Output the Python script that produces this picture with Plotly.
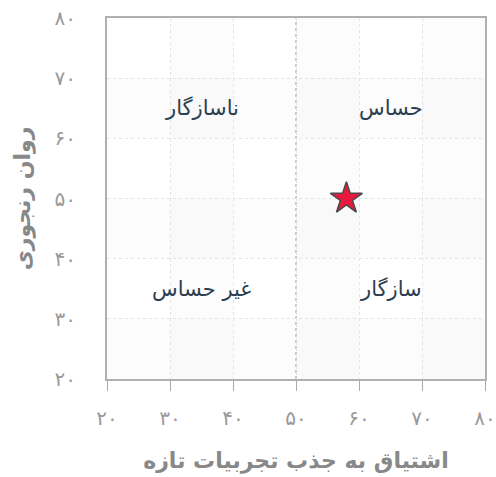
import plotly.graph_objects as go

# Data
point_x = [58]
point_y = [50]
tick_vals = [20, 30, 40, 50, 60, 70, 80]
tick_text = ["۲۰", "۳۰", "۴۰", "۵۰", "۶۰", "۷۰", "۸۰"]
quad_labels = ["ناسازگار", "حساس", "غیر حساس", "سازگار"]
quad_x = [35, 65, 35, 65]
quad_y = [65, 65, 35, 35]
band_x = [(30, 40), (50, 60), (70, 80)]
band_y = [(20, 30), (40, 50), (60, 70)]
x_title = "اشتیاق به جذب تجربیات تازه"
y_title = "روان رنجوری"
center_x = 50
center_y = 50

FONT = "DejaVu Sans"

fig = go.Figure()

shapes = []
for a, b in band_x:
    shapes.append(dict(type="rect", xref="x", yref="y", x0=a, x1=b, y0=20, y1=80,
                       fillcolor="rgba(0,0,0,0.012)", line=dict(width=0), layer="below"))
for a, b in band_y:
    shapes.append(dict(type="rect", xref="x", yref="y", x0=20, x1=80, y0=a, y1=b,
                       fillcolor="rgba(0,0,0,0.012)", line=dict(width=0), layer="below"))
shapes.append(dict(type="line", xref="x", yref="y", x0=center_x, x1=center_x, y0=20, y1=80,
                   line=dict(color="#999999", width=1, dash="dot"), layer="below"))
shapes.append(dict(type="line", xref="x", yref="y", x0=20, x1=80, y0=center_y, y1=center_y,
                   line=dict(color="#999999", width=1, dash="dot"), layer="below"))

fig.add_trace(go.Scatter(
    x=point_x, y=point_y, mode="markers",
    marker=dict(symbol="star", size=24, color="#e8193c",
                line=dict(color="#4a4a4a", width=1.5)),
    hoverinfo="skip", showlegend=False,
))

for t, x, y in zip(quad_labels, quad_x, quad_y):
    fig.add_annotation(x=x, y=y, text=t, showarrow=False,
                       font=dict(family=FONT, size=21, color="#2c3e50"))

fig.update_layout(
    width=496, height=477,
    margin=dict(l=107, r=11, t=18, b=98),
    paper_bgcolor="white", plot_bgcolor="white",
    shapes=shapes,
    showlegend=False,
    font=dict(family=FONT),
)

fig.update_xaxes(
    range=[20, 80], tickvals=tick_vals, ticktext=tick_text,
    showgrid=True, gridcolor="#e4e4e4", griddash="dot", gridwidth=1,
    showline=True, linecolor="#b0b0b0", linewidth=2, mirror=True,
    ticks="outside", ticklen=10, tickcolor="#aaaaaa", tickwidth=1,
    ticklabelstandoff=10,
    tickfont=dict(family=FONT, size=20, color="#999999"),
    zeroline=False, automargin=False,
    title=dict(text="<b>" + x_title + "</b>", standoff=24,
               font=dict(family=FONT, size=22, color="#888888")),
)
fig.update_yaxes(
    range=[20, 80], tickvals=tick_vals, ticktext=tick_text,
    showgrid=True, gridcolor="#e4e4e4", griddash="dot", gridwidth=1,
    showline=True, linecolor="#b0b0b0", linewidth=2, mirror=True,
    ticks="", ticklabelstandoff=25,
    tickfont=dict(family=FONT, size=20, color="#999999"),
    zeroline=False, automargin=False,
    title=dict(text="<b>" + y_title + "</b>", standoff=18,
               font=dict(family=FONT, size=22, color="#888888")),
)

fig.write_html("out.html", config={"displayModeBar": False},
               post_script="document.body.style.margin='0';")
